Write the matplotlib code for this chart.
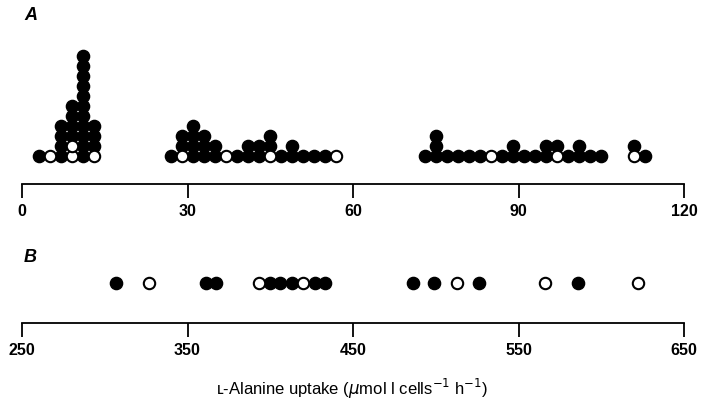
import matplotlib.pyplot as plt
import numpy as np

plt.rcParams['font.family'] = ['Liberation Sans', 'DejaVu Sans']

# panel A: bin centres and the stack in each bin, bottom up (F = filled, O = open)
a_bins = [3, 5, 7, 9, 11, 13,
          27, 29, 31, 33, 35, 37, 39, 41, 43, 45, 47, 49, 51, 53, 55, 57,
          73, 75, 77, 79, 81, 83, 85, 87, 89, 91, 93, 95, 97, 99, 101, 103, 105,
          111, 113]
a_stacks = ["F", "O", "FFFF", "OOFFFF", "FFFFFFFFFFF", "OFFF",
            "F", "OFF", "FFFF", "FFF", "FF", "O", "F", "FF", "FF", "OFF", "F", "FF", "F", "F", "F", "O",
            "F", "FFF", "F", "F", "F", "F", "O", "F", "FF", "F", "F", "FF", "OF", "F", "FF", "F", "F",
            "OF", "F"]
a_ticks = [0, 30, 60, 90, 120]

# panel B: single values
b_values = [307, 327, 361, 367, 393, 400, 406, 413, 420, 427, 433, 486, 499, 513, 526, 566, 586, 622]
b_kind = ["F", "O", "F", "F", "O", "F", "F", "F", "O", "F", "F", "F", "F", "O", "F", "O", "F", "O"]
b_ticks = [250, 350, 450, 550, 650]

W, H = 701, 410
fig = plt.figure(figsize=(W / 100, H / 100), dpi=100)

def px_axes(left, right, top, bottom):
    return fig.add_axes([left / W, 1 - bottom / H, (right - left) / W, (bottom - top) / H])

def style(ax):
    for s in ['top', 'left', 'right']:
        ax.spines[s].set_visible(False)
    ax.spines['bottom'].set_linewidth(1.3)
    ax.set_yticks([])
    ax.tick_params(axis='x', direction='out', length=10, width=1.3, pad=4, labelsize=11.5)
    for lab in ax.get_xticklabels():
        lab.set_fontweight('bold')

ms = 8.8
filled = dict(marker='o', ms=ms, mfc='black', mec='black', ls='none', clip_on=False)
hollow = dict(marker='o', ms=ms - 0.6, mfc='white', mec='black', mew=1.5, ls='none',
              clip_on=False, zorder=3)

# ---- A
axA = px_axes(22, 684, 45, 185)
fx, fy, ox, oy = [], [], [], []
for b, st in zip(a_bins, a_stacks):
    for row, k in enumerate(st):
        if k == "F":
            fx.append(b); fy.append(row)
        else:
            ox.append(b); oy.append(row)
axA.plot(fx, fy, **filled)
axA.plot(ox, oy, **hollow)
axA.set_xlim(0, 120)
axA.set_ylim(-2.8, 11.2)
axA.set_xticks(a_ticks)
style(axA)
fig.text(24 / W, 1 - 15 / H, "A", fontsize=13, fontweight='bold', fontstyle='italic', va='center')

# ---- B
axB = px_axes(22, 684, 280, 324)
bv = np.array(b_values)
bk = np.array(b_kind)
axB.plot(bv[bk == "F"], np.zeros((bk == "F").sum()), **filled)
axB.plot(bv[bk == "O"], np.zeros((bk == "O").sum()), **hollow)
axB.set_xlim(250, 650)
axB.set_ylim(-4.0, 0.4)
axB.set_xticks(b_ticks)
style(axB)
fig.text(24 / W, 1 - 258 / H, "B", fontsize=13, fontweight='bold', fontstyle='italic', va='center')

fig.text(352 / W, 1 - 389 / H, "ʟ-Alanine uptake ($\\mu$mol l cells$^{-1}$ h$^{-1}$)",
         fontsize=12, ha='center', va='center')

fig.savefig("out.png", dpi=100)
